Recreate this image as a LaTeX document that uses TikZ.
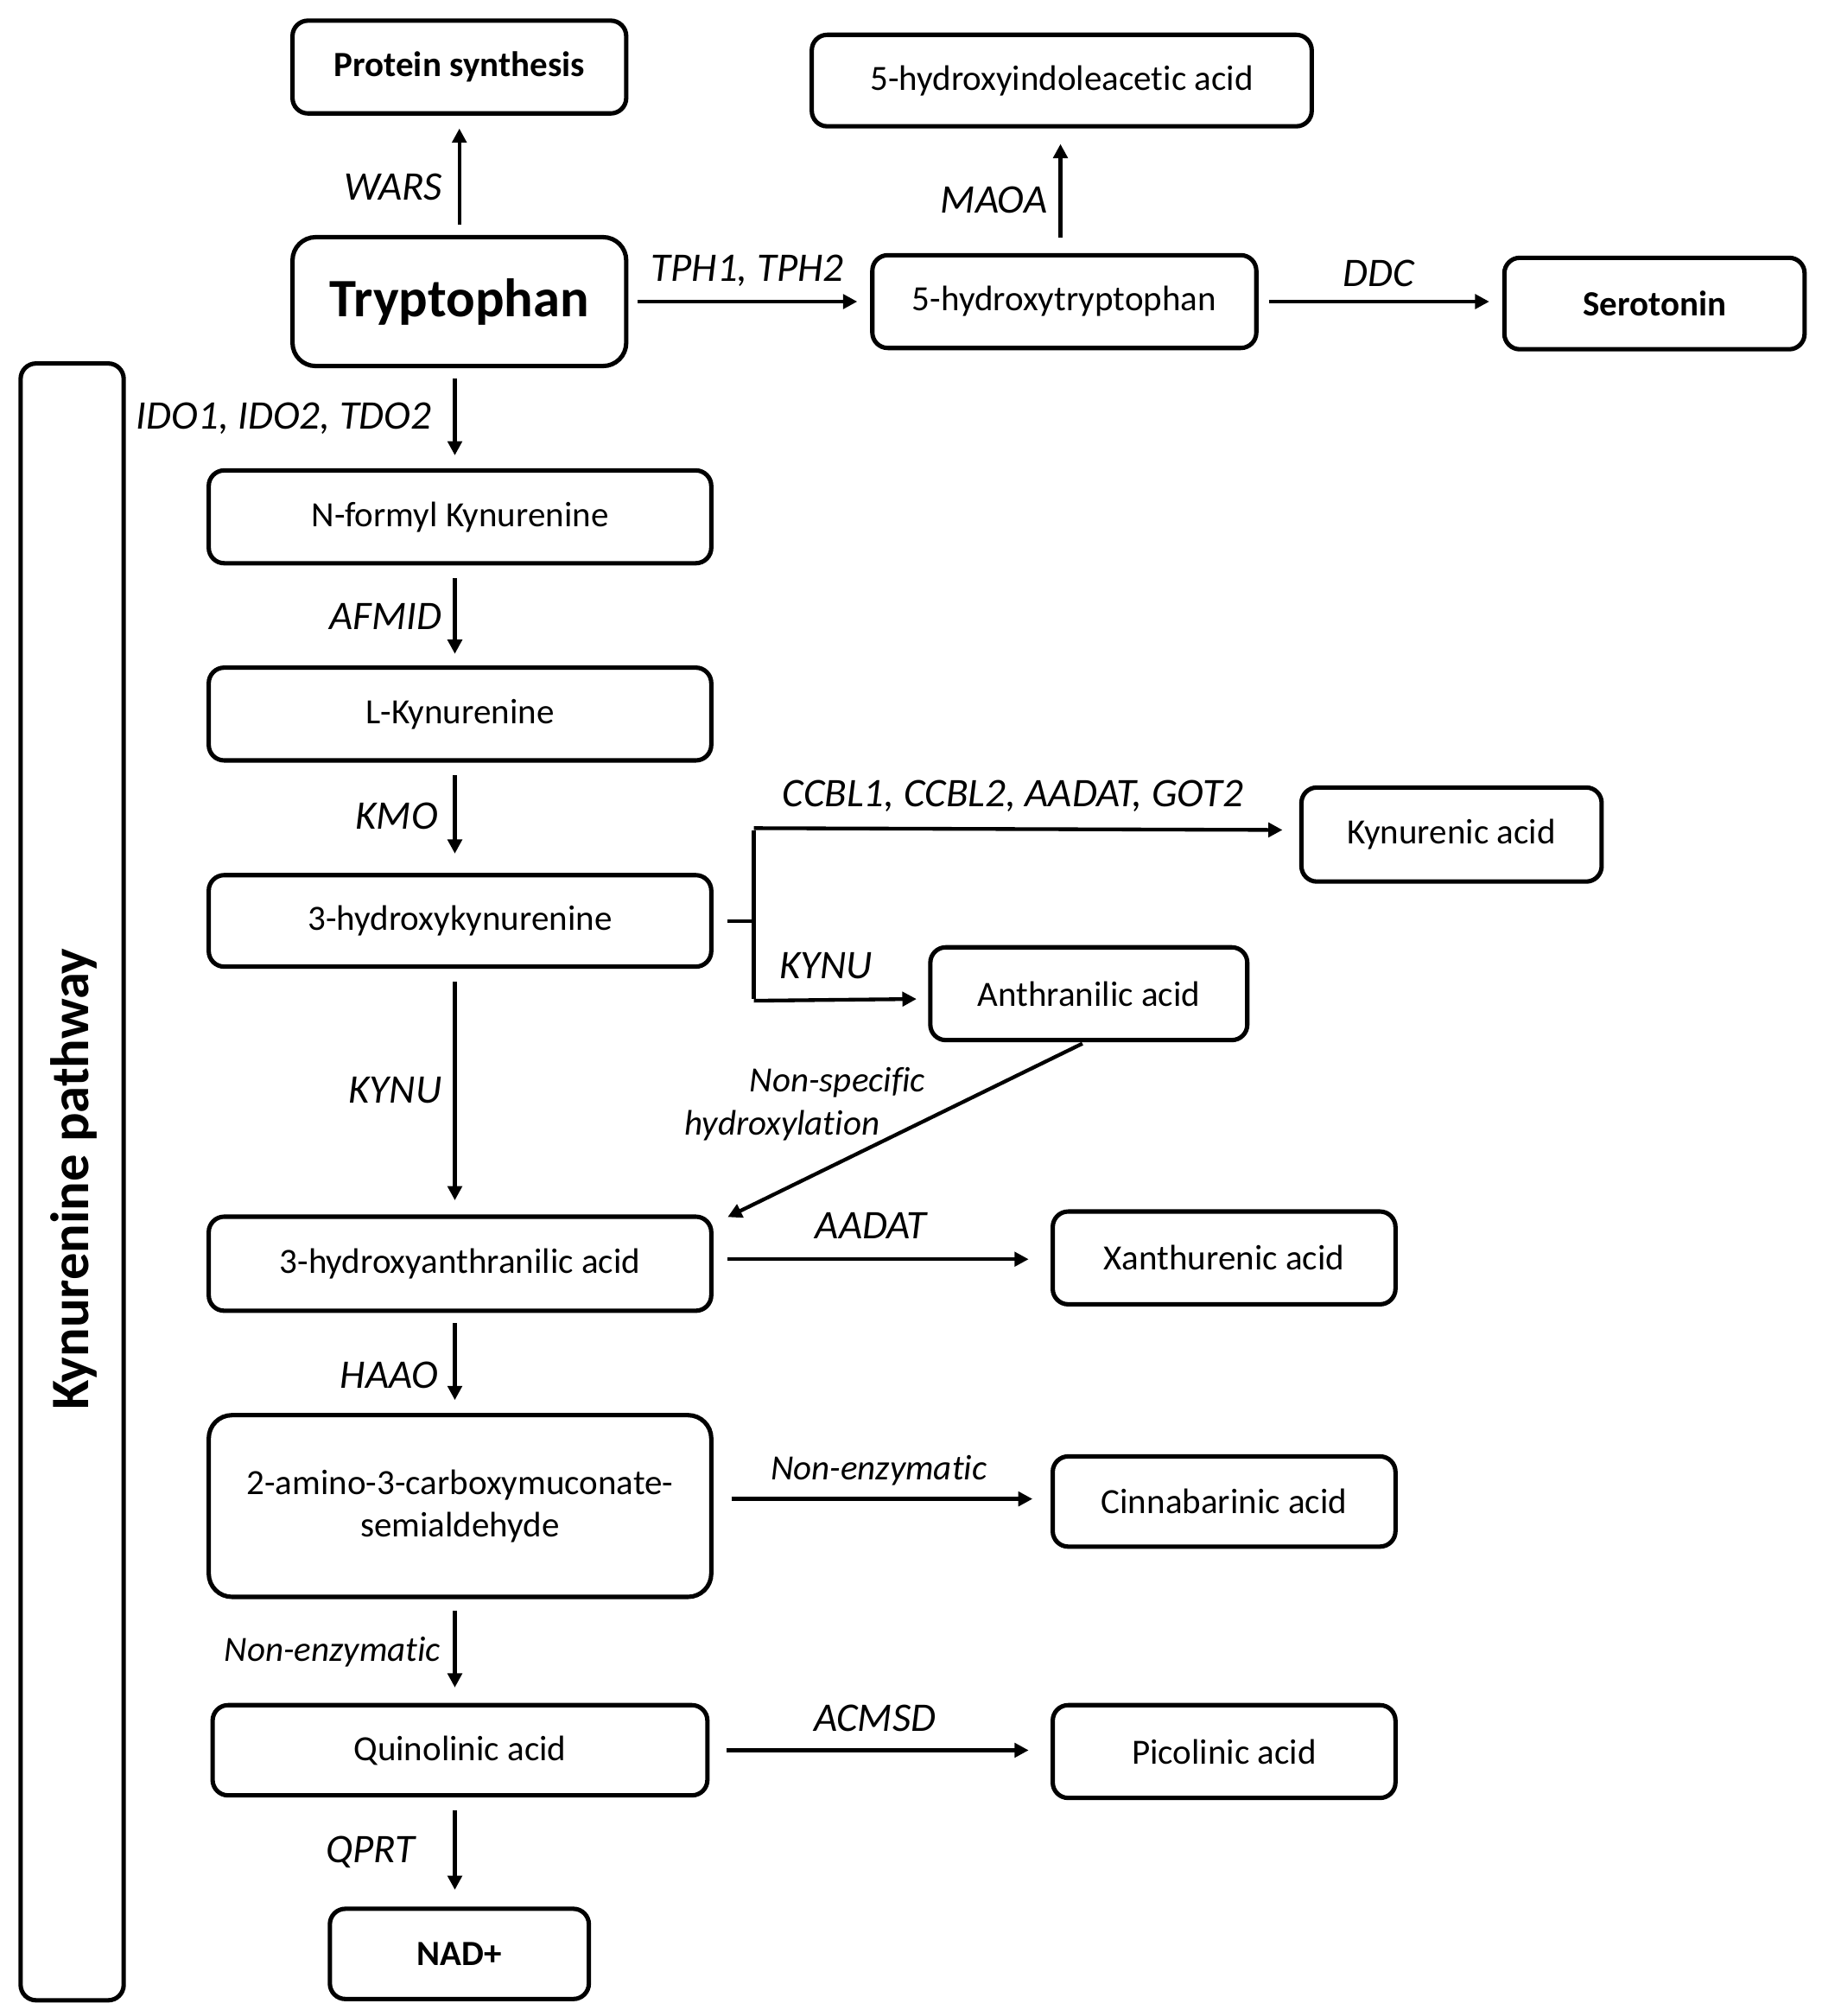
\documentclass[tikz,border=0pt]{standalone}
\usepackage{fontspec}
\setmainfont{Carlito}[Ligatures={NoCommon}]
\usetikzlibrary{arrows.meta,calc}
\begin{document}
\begin{tikzpicture}[x=1pt,y=-1pt,
 box/.style={draw, line width=3.4pt, rounded corners=12pt, align=center, inner sep=0pt, font=\fontsize{27.5}{33}\selectfont},
 bbox/.style={box, font=\fontsize{27.5}{33}\selectfont\bfseries},
 arr/.style={line width=2.9pt, -{Triangle[length=11pt,width=11pt]}},
 lnk/.style={line width=2.9pt},
 enz/.style={inner sep=0pt, font=\fontsize{31.5}{37}\selectfont\itshape},
 nenz/.style={inner sep=0pt, font=\fontsize{27.5}{33}\selectfont\itshape}]
\useasboundingbox (0,0) rectangle (1414,1564.2);

% boxes
\node[bbox, minimum width=259pt, minimum height=72pt] (prot) at (356.5,52) {Protein synthesis};
\node[box, rounded corners=18pt, minimum width=259pt, minimum height=100pt, font=\fontsize{42}{48}\selectfont\bfseries] (tryp) at (356.5,234) {Tryptophan};
\node[box, minimum width=388pt, minimum height=71pt] (hiaa) at (824,62.5) {5-hydroxyindoleacetic acid};
\node[box, minimum width=298pt, minimum height=72pt] (htp) at (826,234) {5-hydroxytryptophan};
\node[bbox, minimum width=233pt, minimum height=71pt] (sero) at (1284,235.5) {Serotonin};
\node[box, minimum width=80pt, minimum height=1270pt] (bar) at (56,917) {};
\node[rotate=90, inner sep=0pt, font=\fontsize{42}{48}\selectfont\bfseries] (kpw) at (57,915) {Kynurenine pathway};
\node[box, minimum width=390pt, minimum height=72pt] (nfk) at (357,401) {N-formyl Kynurenine};
\node[box, minimum width=390pt, minimum height=72pt] (lkyn) at (357,554) {L-Kynurenine};
\node[box, minimum width=390pt, minimum height=71pt] (hk) at (357,714.5) {3-hydroxykynurenine};
\node[box, minimum width=233pt, minimum height=73pt] (kyna) at (1126.5,647.5) {Kynurenic acid};
\node[box, minimum width=246pt, minimum height=72pt] (anth) at (845,771) {Anthranilic acid};
\node[box, minimum width=390pt, minimum height=73pt] (haa) at (357,980.5) {3-hydroxyanthranilic acid};
\node[box, minimum width=266pt, minimum height=72pt] (xan) at (950,976) {Xanthurenic acid};
\node[box, rounded corners=18pt, minimum width=390pt, minimum height=141pt] (acms) at (357,1168.5) {2-amino-3-carboxymuconate-\\semialdehyde};
\node[box, minimum width=266pt, minimum height=70pt] (cinn) at (950,1165) {Cinnabarinic acid};
\node[box, minimum width=384pt, minimum height=70pt] (quin) at (357,1358) {Quinolinic acid};
\node[box, minimum width=266pt, minimum height=72pt] (pic) at (950,1359) {Picolinic acid};
\node[bbox, minimum width=201pt, minimum height=70pt] (nad) at (356.5,1516) {NAD+};

% vertical arrows
\draw[arr, shorten <=8pt, shorten >=10pt] (tryp.north) -- (prot.south);
\draw[arr, shorten <=12pt, shorten >=12pt] (htp.north -| 823,0) -- (hiaa.south -| 823,0);
\draw[arr, shorten <=8pt, shorten >=10pt] (tryp.south -| 353,0) -- (nfk.north -| 353,0);
\draw[arr, shorten <=10pt, shorten >=9pt] (nfk.south -| 353,0) -- (lkyn.north -| 353,0);
\draw[arr, shorten <=10pt, shorten >=15pt] (lkyn.south -| 353,0) -- (hk.north -| 353,0);
\draw[arr, shorten <=10pt, shorten >=11pt] (hk.south -| 353,0) -- (haa.north -| 353,0);
\draw[arr, shorten <=8pt, shorten >=10pt] (haa.south -| 353,0) -- (acms.north -| 353,0);
\draw[arr, shorten <=9pt, shorten >=12pt] (acms.south -| 353,0) -- (quin.north -| 353,0);
\draw[arr, shorten <=10pt, shorten >=13pt] (quin.south -| 353,0) -- (nad.north -| 353,0);

% horizontal arrows
\draw[arr, shorten <=7pt, shorten >=10pt] (tryp.east) -- (htp.west);
\draw[arr, shorten <=8pt, shorten >=10pt] (htp.east) -- (sero.west |- htp.east);
\draw[arr, shorten <=11pt, shorten >=17pt] (haa.east |- 0,977) -- (xan.west |- 0,977);
\draw[arr, shorten <=14pt, shorten >=14pt] (acms.east |- 0,1163) -- (cinn.west |- 0,1163);
\draw[arr, shorten <=13pt, shorten >=17pt] (quin.east) -- (pic.west |- quin.east);

% branch
\coordinate (br) at (585,714.5);
\coordinate (bt) at (585,644);
\coordinate (bb) at (585,775);
\draw[lnk, shorten <=11pt] (hk.east) -- (br);
\draw[lnk] (br) -- (bt);
\draw[lnk] (br) -- (bb);
\draw[arr, shorten >=13pt] ([yshift=1.45pt]bt) -- (kyna.west |- bt);
\draw[arr, shorten >=9pt] ([yshift=-1.45pt]bb) -- (anth.west |- bb);

% diagonal
\coordinate (dstart) at ($(anth.south)+(-5,1)$);
\draw[arr] (dstart) -- ($(haa.north east)+(11,2)$);

% labels
\node[enz, anchor=east] (lwars) at (343,145) {WARS};
\node[enz, anchor=east] (lmaoa) at (813,155) {MAOA};
\node[enz] (ltph) at (580,210) {TPH1, TPH2};
\node[enz] (lddc) at (1070,212) {DDC};
\node[enz, anchor=east] (lido) at (335,325) {IDO1, IDO2, TDO2};
\node[enz, anchor=east] (lafmid) at (343,478) {AFMID};
\node[enz, anchor=east] (lkmo) at (340,633) {KMO};
\node[enz] (lccbl) at (786,618) {CCBL1, CCBL2, AADAT, GOT2};
\node[enz] (lkynu1) at (641,749) {KYNU};
\node[enz, anchor=east] (lkynu2) at (343,846) {KYNU};
\node[nenz] (lns1) at (650,840) {Non-specific};
\node[nenz] (lns2) at (607,873) {hydroxylation};
\node[enz] (laadat) at (676,951) {AADAT};
\node[enz, anchor=east] (lhaao) at (340,1067) {HAAO};
\node[nenz] (lne1) at (682,1141) {Non-enzymatic};
\node[nenz, anchor=east] (lne2) at (342,1282) {Non-enzymatic};
\node[enz] (lacmsd) at (679,1333) {ACMSD};
\node[enz, anchor=east] (lqprt) at (322,1437) {QPRT};
\end{tikzpicture}
\end{document}
